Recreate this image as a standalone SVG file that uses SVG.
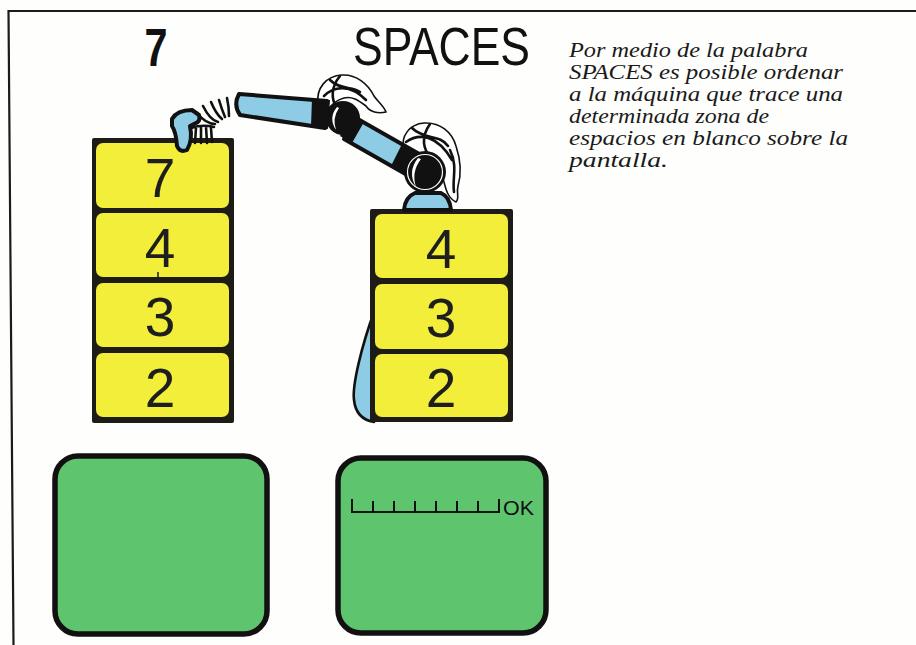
<svg xmlns="http://www.w3.org/2000/svg" width="916" height="645" viewBox="0 0 916 645">
  <style>
    .frame { fill: none; stroke: #1b1b1b; stroke-width: 2.2; }
    .stack { fill: #1e1c16; }
    .cell { fill: #f2ee3a; }
    .digit { font-family: "Liberation Sans", Arial, sans-serif; font-size: 55px; fill: #1e1e1e; text-anchor: middle; }
    .title { font-family: "Liberation Sans", Arial, sans-serif; font-size: 53px; fill: #111; }
    .note { font-family: "Liberation Serif", "Times New Roman", serif; font-style: italic; font-size: 20px; fill: #1a1a1a; }
    .screen { fill: #5ec46e; stroke: #111; stroke-width: 5.5; }
    .limb { fill: #8ecbe4; stroke: #111; stroke-width: 4; stroke-linejoin: round; }
    .ink { fill: #111; }
    .wire { fill: #fff; stroke: #111; stroke-width: 1.6; stroke-linejoin: round; }
    .thin { fill: none; stroke: #111; stroke-width: 2.6; stroke-linecap: round; }
    .ruler { fill: none; stroke: #111; stroke-width: 2; stroke-linecap: square; }
  </style>

  <rect x="0" y="0" width="916" height="645" fill="#fefefc"/>

  <!-- page border -->
  <path class="frame" d="M916,11 L8.5,11 L13.5,645"/>

  <!-- heading -->
  <g id="heading">
    <text class="title" x="156" y="66" text-anchor="middle" font-weight="bold" textLength="23" lengthAdjust="spacingAndGlyphs">7</text>
    <text class="title" x="353" y="65" textLength="177" lengthAdjust="spacingAndGlyphs">SPACES</text>
  </g>

  <!-- caption -->
  <g id="caption">
    <text class="note" x="569" y="57" textLength="239" lengthAdjust="spacingAndGlyphs">Por medio de la palabra</text>
    <text class="note" x="569" y="79" textLength="274" lengthAdjust="spacingAndGlyphs">SPACES es posible ordenar</text>
    <text class="note" x="569" y="101" textLength="274" lengthAdjust="spacingAndGlyphs">a la máquina que trace una</text>
    <text class="note" x="569" y="123" textLength="200" lengthAdjust="spacingAndGlyphs">determinada zona de</text>
    <text class="note" x="569" y="145" textLength="279" lengthAdjust="spacingAndGlyphs">espacios en blanco sobre la</text>
    <text class="note" x="569" y="167" textLength="99" lengthAdjust="spacingAndGlyphs">pantalla.</text>
  </g>

  <!-- cable hanging behind the right stack -->
  <g id="cable">
    <path d="M374,312 C362,345 352,385 354,400 Q356,419 374,422 Z" fill="#8ecbe4"/>
    <path class="thin" d="M374,312 C362,345 352,385 354,400 Q356,419 374,422" stroke-width="3.5"/>
  </g>

  <!-- left stack: 7 4 3 2 -->
  <g id="stack-left">
    <rect class="stack" x="92" y="138" width="142" height="285" rx="2"/>
    <rect class="cell" x="96" y="143" width="133" height="65" rx="7"/>
    <rect class="cell" x="96" y="213" width="133" height="64" rx="7"/>
    <rect class="cell" x="96" y="283" width="133" height="64" rx="7"/>
    <rect class="cell" x="96" y="353" width="133" height="64" rx="7"/>
    <line x1="158" y1="272" x2="158" y2="279" stroke="#1e1c16" stroke-width="1.5"/>
    <text class="digit" x="160" y="197">7</text>
    <text class="digit" x="160" y="267">4</text>
    <text class="digit" x="160" y="336">3</text>
    <text class="digit" x="160" y="407">2</text>
  </g>

  <!-- right stack: 4 3 2 -->
  <g id="stack-right">
    <rect class="stack" x="370" y="209" width="143" height="213" rx="2"/>
    <rect class="cell" x="375" y="214" width="133" height="64" rx="7"/>
    <rect class="cell" x="375" y="284" width="133" height="65" rx="7"/>
    <rect class="cell" x="375" y="354" width="133" height="63" rx="7"/>
    <text class="digit" x="441" y="268">4</text>
    <text class="digit" x="441" y="337">3</text>
    <text class="digit" x="441" y="407">2</text>
  </g>

  <!-- robot arm -->
  <g id="robot">
    <!-- base on top of the right stack -->
    <path class="limb" d="M404,210 Q405,197 415,193 L441,193 Q450,197 451,210 Z"/>

    <!-- cables over the elbow joints -->
    <path class="wire" d="M318,104 C316,88 326,76 342,75 C356,74 368,84 374,96 C378,102 384,106 386,112 C378,114 370,112 366,106 C358,100 352,96 344,98 C336,100 330,106 326,112 Z"/>
    <path class="thin" stroke-width="1.4" d="M330,80 C340,90 352,86 360,92 M324,96 C334,86 350,84 366,100 M340,76 C330,88 332,100 336,106"/>
    <path class="wire" d="M404,150 C400,136 410,124 424,123 C440,122 452,132 456,146 C460,158 462,172 458,186 C456,194 460,198 456,202 C448,198 446,190 444,182 C440,168 432,158 420,156 Z"/>
    <path class="thin" stroke-width="1.4" d="M412,128 C424,140 440,134 448,146 M406,142 C420,132 438,136 452,160 M430,124 C420,138 424,150 430,156 M450,150 C458,166 452,178 454,192"/>

    <!-- upper arm -->
    <path class="limb" d="M239,94 L327,101 L325,128 L240,115 Q233,105 239,94 Z"/>
    <path class="ink" d="M312,99 L330,100 L328,129 L311,126 Z"/>

    <!-- forearm -->
    <path class="limb" d="M356,118 L421,155 L409,176 L344,139 Z"/>
    <path class="ink" d="M402,144 L423,156 L411,178 L391,166 Z"/>
    <path class="ink" d="M352,115 L364,122 L352,143 L340,136 Z"/>

    <!-- shoulder joint -->
    <circle class="ink" cx="343" cy="118" r="17"/>
    <path d="M337,107 Q328,118 336,130 Q332,118 339,108 Z" fill="#fff"/>

    <!-- elbow joint -->
    <circle class="ink" cx="425" cy="172" r="21"/>
    <circle cx="425" cy="172" r="17.5" fill="none" stroke="#fff" stroke-width="1.2"/>
    <path d="M418,158 Q407,172 416,187 Q411,172 421,159 Z" fill="#fff"/>

    <!-- spring coils at the wrist -->
    <path class="thin" d="M197,113 Q206,124 215,124"/>
    <path class="thin" d="M203,106 Q210,120 218,122"/>
    <path class="thin" d="M211,102 Q216,114 222,119"/>
    <path class="thin" d="M219,100 Q222,110 225,117"/>
    <path class="thin" d="M227,98 Q229,107 229,116"/>

    <!-- gripper -->
    <path class="thin" stroke-width="2.4" d="M191,128 Q202,124 214,127 M196,128 L195,143 M201,127 L201,143 M206,127 L207,143 M211,128 L212,142"/>
    <path class="limb" d="M172,119 Q177,110 192,110 L199,115 Q201,122 194,124 L190,126 Q193,140 187,150 Q180,153 177,146 Q176,132 172,126 Z"/>
  </g>

  <!-- blank screen -->
  <g id="screen-left">
    <rect class="screen" x="55" y="456" width="212" height="178" rx="23"/>
  </g>

  <!-- screen with the printed spaces -->
  <g id="screen-right">
    <rect class="screen" x="338" y="458" width="208" height="175" rx="23"/>
    <path class="ruler" d="M352,500 L352,512 L499,512 L499,500 M373,502 L373,512 M394,502 L394,512 M415,502 L415,512 M436,502 L436,512 M457,502 L457,512 M478,502 L478,512"/>
    <text x="503" y="515" font-family="Liberation Sans, Arial, sans-serif" font-size="21" fill="#111" textLength="31" lengthAdjust="spacingAndGlyphs">OK</text>
  </g>
</svg>
